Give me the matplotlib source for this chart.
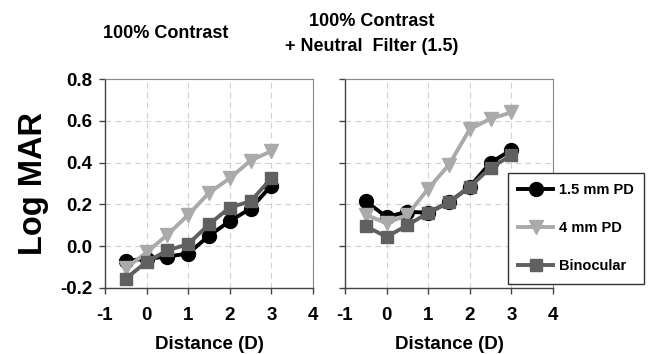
import matplotlib
matplotlib.use("Agg")
import matplotlib.pyplot as plt

plt.rcParams['font.family'] = ['Liberation Sans', 'DejaVu Sans']
plt.rcParams['font.weight'] = 'bold'
plt.rcParams['axes.unicode_minus'] = False

distance = [-0.5, 0, 0.5, 1, 1.5, 2, 2.5, 3]

# 100% contrast
pd15_a = [-0.07, -0.06, -0.05, -0.035, 0.05, 0.12, 0.18, 0.29]
pd4_a = [-0.105, -0.03, 0.055, 0.15, 0.255, 0.325, 0.41, 0.455]
bino_a = [-0.155, -0.075, -0.02, 0.01, 0.105, 0.185, 0.215, 0.325]

# 100% contrast + neutral filter
pd15_b = [0.215, 0.14, 0.165, 0.16, 0.21, 0.285, 0.40, 0.46]
pd4_b = [0.15, 0.11, 0.15, 0.275, 0.39, 0.56, 0.61, 0.64]
bino_b = [0.095, 0.045, 0.10, 0.16, 0.21, 0.285, 0.375, 0.435]

labels = ['1.5 mm PD', '4 mm PD', 'Binocular']
titles = ['100% Contrast', '100% Contrast\n+ Neutral  Filter (1.5)']
xticks = [-1, 0, 1, 2, 3, 4]
yticks = [-0.2, 0.0, 0.2, 0.4, 0.6, 0.8]
yticklabels = ['-0.2', '0.0', '0.2', '0.4', '0.6', '0.8']

fig = plt.figure(figsize=(6.5, 3.54), dpi=100)
ax1 = fig.add_axes([105/650, 1-288/354, 208/650, 209/354])
ax2 = fig.add_axes([345/650, 1-288/354, 208/650, 209/354])

styles = [
    dict(color='black', marker='o', markersize=10),
    dict(color='#aaaaaa', marker='v', markersize=10),
    dict(color='#606060', marker='s', markersize=9),
]

lines = []
for ax, data in [(ax1, [pd15_a, pd4_a, bino_a]), (ax2, [pd15_b, pd4_b, bino_b])]:
    for vals, st, lab in zip(data, styles, labels):
        ln, = ax.plot(distance, vals, linewidth=2.8, label=lab, **st)
        if ax is ax2:
            lines.append(ln)
    ax.set_xlim(-1, 4)
    ax.set_ylim(-0.2, 0.8)
    ax.set_xticks(xticks)
    ax.set_yticks(yticks)
    ax.grid(True, linestyle=(0, (5, 4)), color='#d0d0d0', linewidth=0.8)
    ax.set_axisbelow(True)
    for s in ['top', 'right']:
        ax.spines[s].set_color('#888888')
        ax.spines[s].set_linewidth(0.8)
    for s in ['left', 'bottom']:
        ax.spines[s].set_color('#444444')
        ax.spines[s].set_linewidth(1.0)
    ax.tick_params(direction='out', length=4, width=1, colors='#444444',
                   labelcolor='black', labelsize=13.5)
    ax.tick_params(axis='x', pad=10)
    ax.tick_params(axis='y', pad=5)
    for t in ax.get_xticklabels() + ax.get_yticklabels():
        t.set_fontweight('bold')
    ax.set_xlabel('Distance (D)', fontsize=13.5, fontweight='bold', labelpad=8)

ax1.set_yticklabels(yticklabels)
ax2.set_yticklabels([])
ax1.set_ylabel('Log MAR', fontsize=23.5, fontweight='bold', labelpad=8)

fig.text(166/650, 1-33/354, titles[0], ha='center', va='center',
         fontsize=13, fontweight='bold')
fig.text(372/650, 1-34/354, titles[1], ha='center', va='center',
         fontsize=13, fontweight='bold', linespacing=1.55)

leg = fig.legend(lines, labels, loc='upper left',
                 bbox_to_anchor=(508/650, 1-173/354), borderaxespad=0,
                 fancybox=False, framealpha=1,
                 edgecolor='#333333', fontsize=10.5, handlelength=2.4,
                 handletextpad=0.4, labelspacing=1.65, borderpad=0.7)
leg.get_frame().set_linewidth(1.0)
for t in leg.get_texts():
    t.set_fontweight('bold')

fig.savefig('out.png', dpi=100)
